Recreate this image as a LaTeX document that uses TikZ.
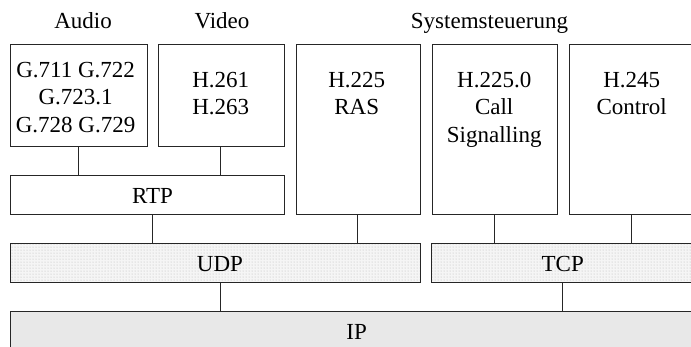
\documentclass[tikz,border=0pt]{standalone}
\usepackage{fontspec}
\setmainfont{Liberation Serif}
\usetikzlibrary{patterns}
\begin{document}
\begin{tikzpicture}[x=1pt,y=-1pt,
  box/.style={draw=black!85,line width=0.9pt,rectangle,inner sep=0pt,anchor=north west},
  lbl/.style={inner sep=0pt,anchor=base,align=center,font=\fontsize{23}{27.4}\selectfont},
  dotfill/.style={preaction={fill=black!4},pattern=dots,pattern color=black!28},
  conn/.style={draw=black!85,line width=0.9pt}]
\useasboundingbox (0,0) rectangle (691,346);
\clip (0,0) rectangle (691,346);
% boxes
\node[box,minimum width=136.7pt,minimum height=101.7pt] (audio) at (10,44) {};
\node[box,minimum width=125.7pt,minimum height=101.7pt] (video) at (158,44) {};
\node[box,minimum width=273.7pt,minimum height=39pt] (rtp) at (10,175) {};
\node[box,minimum width=123.8pt,minimum height=170pt] (ras) at (295.7,44) {};
\node[box,minimum width=125.3pt,minimum height=170pt] (call) at (431.5,44) {};
\node[box,minimum width=130pt,minimum height=170pt] (ctrl) at (568.7,44) {};
\node[box,dotfill,minimum width=410pt,minimum height=39.6pt] (udp) at (10,242.7) {};
\node[box,dotfill,minimum width=270pt,minimum height=39.6pt] (tcp) at (431.3,242.7) {};
\node[box,fill=black!9,minimum width=700pt,minimum height=50pt] (ip) at (10,310.7) {};
% texts (base anchor = baseline of the last line)
\node[lbl] (taudio) at (83,28.3) {Audio};
\node[lbl] (tvideo) at (222,28.3) {Video};
\node[lbl] (tsys) at (489.5,28.3) {Systemsteuerung};
\node[lbl] (taudiot) at (75.6,132.1) {G.711 G.722\\G.723.1\\G.728 G.729};
\node[lbl] (tvideot) at (220.8,114.7) {H.261\\H.263};
\node[lbl] (trast) at (356.7,114.7) {H.225\\RAS};
\node[lbl] (tcallt) at (494.2,142.1) {H.225.0\\Call\\Signalling};
\node[lbl] (tctrlt) at (631.7,114.7) {H.245\\Control};
\node[lbl] (trtpt) at (152.5,203.3) {RTP};
\node[lbl] (tudpt) at (220,271.7) {UDP};
\node[lbl] (ttcpt) at (562.7,271.7) {TCP};
\node[lbl] (tipt) at (356.7,339.3) {IP};
% connectors
\draw[conn] (audio.south -| 78.7,0) -- (rtp.north -| 78.7,0);
\draw[conn] (video.south -| 220.7,0) -- (rtp.north -| 220.7,0);
\draw[conn] (rtp.south -| 152.7,0) -- (udp.north -| 152.7,0);
\draw[conn] (ras.south -| 357.3,0) -- (udp.north -| 357.3,0);
\draw[conn] (call.south -| 494,0) -- (tcp.north -| 494,0);
\draw[conn] (ctrl.south -| 631.3,0) -- (tcp.north -| 631.3,0);
\draw[conn] (udp.south -| 220.7,0) -- (ip.north -| 220.7,0);
\draw[conn] (tcp.south -| 562.3,0) -- (ip.north -| 562.3,0);
\end{tikzpicture}
\end{document}
